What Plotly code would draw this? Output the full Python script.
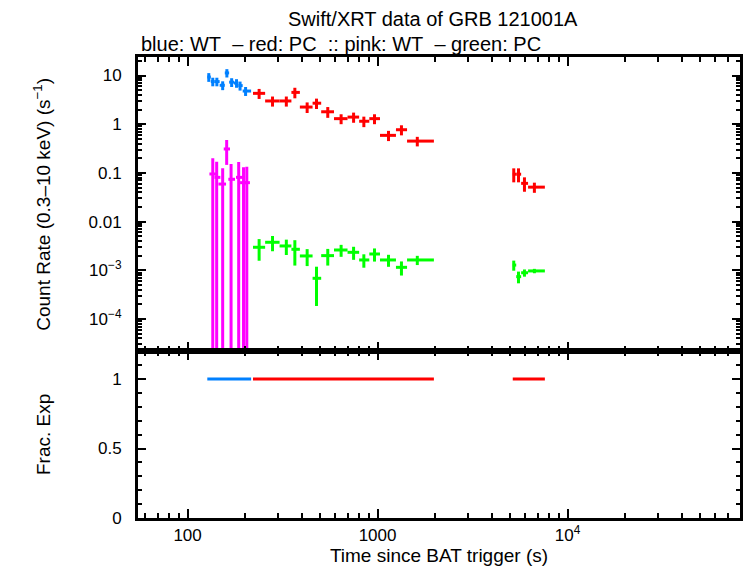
import plotly.graph_objects as go

# ---------------- data ----------------
# WT mode (blue) count rates
blue_t = [129.3, 135.7, 142.6, 153, 161, 170.6, 181, 188.9, 202]
blue_tlo = [127, 132.5, 139, 147.5, 157, 165.5, 175.5, 185, 195]
blue_thi = [132.5, 139, 147.5, 157, 165.5, 175.5, 185, 195, 216]
blue_rate = [9.3, 7.5, 7.5, 6.3, 11.3, 7.3, 7.0, 6.2, 4.8]
blue_err = [1.9, 1.5, 1.5, 1.3, 2.2, 1.5, 1.4, 1.3, 1.0]

# PC mode (red) count rates
red_t = [238, 280, 331, 367, 426, 477, 547, 643, 748, 847, 964, 1142, 1336, 1619,
         5212, 5520, 5934, 6693]
red_tlo = [221, 256, 305, 352, 390, 455, 505, 590, 695, 800, 905, 1030, 1250, 1430,
           5150, 5370, 5700, 6200]
red_thi = [256, 305, 352, 390, 455, 505, 590, 695, 800, 905, 1030, 1250, 1430, 1980,
           5370, 5700, 6200, 7600]
red_rate = [4.3, 3.0, 3.0, 4.5, 2.25, 2.7, 1.8, 1.3, 1.4, 1.15, 1.3, 0.59, 0.77, 0.45,
            0.094, 0.094, 0.061, 0.051]
red_err = [1.0, 0.7, 0.7, 1.1, 0.55, 0.65, 0.45, 0.3, 0.33, 0.28, 0.3, 0.14, 0.18, 0.1,
           0.03, 0.03, 0.02, 0.012]

# WT (pink)
pink_t = [135.7, 142.3, 153, 160.6, 169.4, 185.8, 197, 205]
pink_tlo = [130.3, 138.5, 145.3, 155.0, 163.9, 179.8, 188.9, 197]
pink_thi = [144.0, 148.8, 159.4, 167.2, 177.7, 196.4, 205, 212.9]
pink_rate = [0.095, 0.081, 0.059, 0.31, 0.074, 0.081, 0.063, 0.063]
pink_err = [0.105, 0.089, 0.065, 0.164, 0.078, 0.087, 0.067, 0.07]

# PC (green), same time bins as red
green_rate = [2.97e-3, 3.76e-3, 3.16e-3, 2.70e-3, 1.97e-3, 6.85e-4, 2.0e-3, 2.61e-3,
              2.34e-3, 1.63e-3, 2.16e-3, 1.63e-3, 1.15e-3, 1.63e-3,
              1.28e-3, 7.4e-4, 8.9e-4, 9.7e-4]
green_err = [1.4e-3, 1.3e-3, 1.1e-3, 1.45e-3, 0.75e-3, 0.5e-3, 0.75e-3, 0.72e-3,
             0.7e-3, 0.5e-3, 0.65e-3, 0.45e-3, 0.37e-3, 0.35e-3,
             0.3e-3, 0.2e-3, 0.15e-3, 0.1e-3]

# Fractional exposure: contiguous segments (start/end times) at frac = 1
blue_seg_t = [127, 216]
blue_seg_frac = [1, 1]
red_seg1_t = [221, 1980]
red_seg1_frac = [1, 1]
red_seg2_t = [5150, 7600]
red_seg2_frac = [1, 1]

x_tickvals = [100, 1000, 10000]
x_ticktext = ["100", "1000", "10<sup>4</sup>"]
y1_tickvals = [10, 1, 0.1, 0.01, 1e-3, 1e-4]
y1_ticktext = ["10", "1", "0.1", "0.01", "10<sup>\u22123</sup>", "10<sup>\u22124</sup>"]
y2_tickvals = [0, 0.5, 1]
y2_ticktext = ["0", "0.5", "1"]

BLUE = "rgb(0,128,255)"
RED = "rgb(255,0,0)"
PINK = "rgb(255,0,255)"
GREEN = "rgb(0,255,0)"
FONT = "Liberation Sans, Arial, Helvetica, sans-serif"
TH = 3


def xerr(t, lo, hi, color):
    return dict(type="data", symmetric=False,
                array=[h - c for c, h in zip(t, hi)],
                arrayminus=[c - l for c, l in zip(t, lo)],
                width=0, thickness=TH, color=color)


fig = go.Figure()


def add(t, lo, hi, v, e, color):
    fig.add_trace(go.Scatter(
        x=t, y=v, mode="markers", marker=dict(size=1, color=color),
        error_x=xerr(t, lo, hi, color),
        error_y=dict(type="data", array=e, width=0, thickness=TH, color=color),
        xaxis="x", yaxis="y", showlegend=False, hoverinfo="skip"))


add(pink_t, pink_tlo, pink_thi, pink_rate, pink_err, PINK)
add(red_t, red_tlo, red_thi, green_rate, green_err, GREEN)
add(blue_t, blue_tlo, blue_thi, blue_rate, blue_err, BLUE)
add(red_t, red_tlo, red_thi, red_rate, red_err, RED)

for xs, ys, c in [(blue_seg_t, blue_seg_frac, BLUE),
                  (red_seg1_t, red_seg1_frac, RED),
                  (red_seg2_t, red_seg2_frac, RED)]:
    fig.add_trace(go.Scatter(x=xs, y=ys, mode="lines", line=dict(color=c, width=TH),
                             xaxis="x2", yaxis="y2", showlegend=False,
                             hoverinfo="skip"))

x_minor = [60, 70, 80, 90] + [k * 100 for k in range(2, 10)] + \
          [k * 1000 for k in range(2, 10)] + [k * 10000 for k in range(2, 9)]
y_minor = []
for dec in [1e-5, 1e-4, 1e-3, 1e-2, 1e-1, 1, 10]:
    for k in range(2, 10):
        y_minor.append(k * dec)
y2_minor = [0.1, 0.2, 0.3, 0.4, 0.6, 0.7, 0.8, 0.9, 1.1, 1.2]

axis_common = dict(showline=True, linewidth=3, linecolor="black", mirror="allticks",
                   ticks="inside", tickwidth=2, tickcolor="black",
                   showgrid=False, zeroline=False,
                   tickfont=dict(family=FONT, size=17, color="black"))

XR = [1.739, 4.908]
fig.update_layout(
    width=746, height=568,
    margin=dict(l=138, r=3, t=57, b=50),
    paper_bgcolor="white", plot_bgcolor="white",
    font=dict(family=FONT, color="black"),
    xaxis=dict(type="log", range=XR, domain=[0, 1], anchor="y",
               tickvals=x_tickvals, ticktext=x_ticktext, showticklabels=False,
               ticklen=9,
               minor=dict(tickvals=x_minor, ticks="inside", ticklen=5, tickwidth=2,
                          tickcolor="black", showgrid=False),
               **axis_common),
    xaxis2=dict(type="log", range=XR, domain=[0, 1], anchor="y2", matches="x",
                tickvals=x_tickvals, ticktext=x_ticktext, ticklen=9,
                minor=dict(tickvals=x_minor, ticks="inside", ticklen=5, tickwidth=2,
                           tickcolor="black", showgrid=False),
                title=dict(text="Time since BAT trigger (s)", standoff=5,
                           font=dict(family=FONT, size=19, color="black")),
                **axis_common),
    yaxis=dict(type="log", range=[-4.657, 1.380], domain=[0.3623, 1], anchor="x",
               tickvals=y1_tickvals, ticktext=y1_ticktext, ticklen=8,
               ticklabelstandoff=10,
               minor=dict(tickvals=y_minor, ticks="inside", ticklen=4, tickwidth=2,
                          tickcolor="black", showgrid=False),
               **axis_common),
    yaxis2=dict(range=[0, 1.202], domain=[0, 0.3623], anchor="x2",
                tickvals=y2_tickvals, ticktext=y2_ticktext, ticklen=8,
                ticklabelstandoff=10,
                minor=dict(tickvals=y2_minor, ticks="inside", ticklen=4, tickwidth=2,
                           tickcolor="black", showgrid=False),
                **axis_common),
)

ann_font = dict(family=FONT, size=20, color="black")
fig.add_annotation(text="Swift/XRT data of GRB 121001A", xref="paper", yref="paper",
                   x=0.49, y=1.082, xanchor="center", yanchor="middle",
                   showarrow=False, font=ann_font)
fig.add_annotation(text="blue: WT\u00a0\u00a0\u2013 red: PC\u00a0\u00a0:: pink: WT\u00a0\u00a0\u2013 green: PC",
                   xref="paper", yref="paper", x=0.002, y=1.028,
                   xanchor="left", yanchor="middle", showarrow=False, font=ann_font)
fig.add_annotation(text="Count Rate (0.3\u201310 keV) (s<sup>\u22121</sup>)",
                   xref="paper", yref="paper", x=-0.16, y=0.681, textangle=-90,
                   xanchor="center", yanchor="middle", showarrow=False,
                   font=dict(family=FONT, size=19, color="black"))
fig.add_annotation(text="Frac. Exp", xref="paper", yref="paper", x=-0.157, y=0.181,
                   textangle=-90, xanchor="center", yanchor="middle", showarrow=False,
                   font=dict(family=FONT, size=19, color="black"))

fig.write_html("out.html")
